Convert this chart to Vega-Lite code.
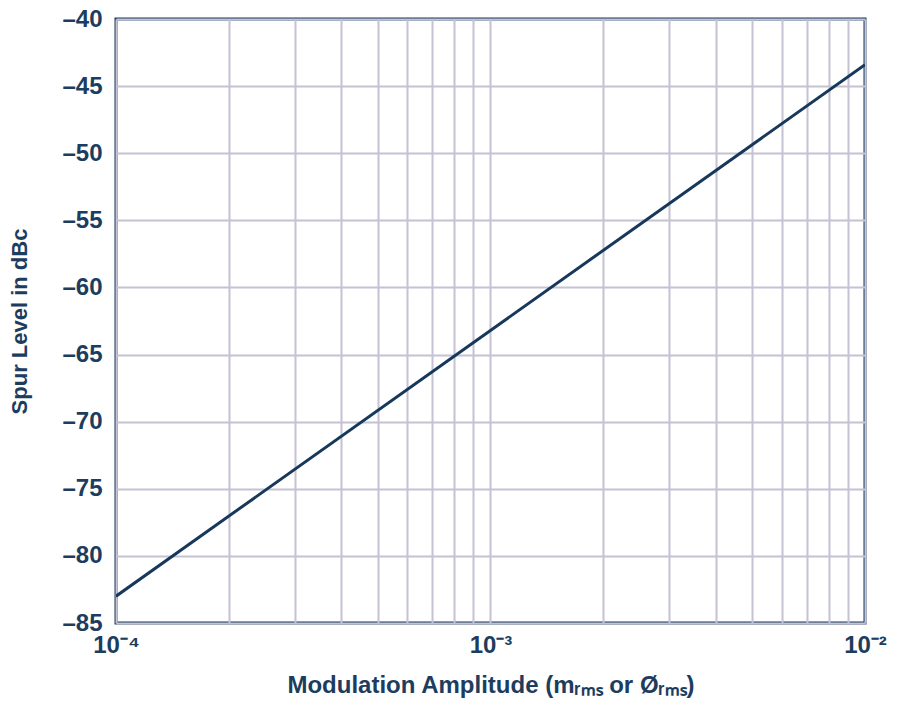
{
  "$schema": "https://vega.github.io/schema/vega-lite/v6.json",
  "autosize": {"type": "none"},
  "width": 749,
  "height": 604,
  "padding": {"left": 116, "top": 19, "right": 35, "bottom": 88},
  "background": "white",
  "config": {
    "view": {"stroke": "#1b3b5c", "strokeWidth": 3},
    "font": "Liberation Sans"
  },
  "data": {
    "values": [
      {"amp": 0.0001, "spur": -83},
      {"amp": 0.01, "spur": -43.4}
    ]
  },
  "mark": {"type": "line", "color": "#17385a", "strokeWidth": 3, "clip": true},
  "encoding": {
    "x": {
      "field": "amp",
      "type": "quantitative",
      "scale": {"type": "log", "domain": [0.0001, 0.01], "nice": false},
      "axis": {
        "values": [0.0001, 0.0002, 0.0003, 0.0004, 0.0005, 0.0006, 0.0007, 0.0008, 0.0009, 0.001, 0.002, 0.003, 0.004, 0.005, 0.006, 0.007, 0.008, 0.009, 0.01],
        "labelExpr": "datum.value == 0.0001 ? '10⁻⁴' : datum.value == 0.001 ? '10⁻³' : datum.value == 0.01 ? '10⁻²' : ''",
        "grid": true,
        "gridColor": "#c4c2d3",
        "gridWidth": 2,
        "gridOpacity": 1,
        "domain": false,
        "ticks": false,
        "labelPadding": 10,
        "labelFont": "Liberation Sans",
        "labelFontSize": 24,
        "labelFontWeight": "bold",
        "labelColor": "#1d3d5e",
        "labelFlush": false,
        "title": "Modulation Amplitude (mᵣₘₛ or Øᵣₘₛ)",
        "titleFont": "Liberation Sans",
        "titleFontSize": 24,
        "titleFontWeight": "bold",
        "titleColor": "#1d3d5e",
        "titlePadding": 16
      }
    },
    "y": {
      "field": "spur",
      "type": "quantitative",
      "scale": {"domain": [-85, -40], "nice": false, "zero": false},
      "axis": {
        "values": [-85, -80, -75, -70, -65, -60, -55, -50, -45, -40],
        "labelExpr": "'–' + abs(datum.value)",
        "grid": true,
        "gridColor": "#c4c2d3",
        "gridWidth": 2,
        "gridOpacity": 1,
        "domain": false,
        "ticks": false,
        "labelPadding": 14,
        "labelFont": "Liberation Sans",
        "labelFontSize": 24,
        "labelFontWeight": "bold",
        "labelColor": "#1d3d5e",
        "labelFlush": false,
        "title": "Spur Level in dBc",
        "titleFont": "Liberation Sans",
        "titleFontSize": 22,
        "titleFontWeight": "bold",
        "titleColor": "#1d3d5e",
        "titlePadding": 30
      }
    }
  }
}
